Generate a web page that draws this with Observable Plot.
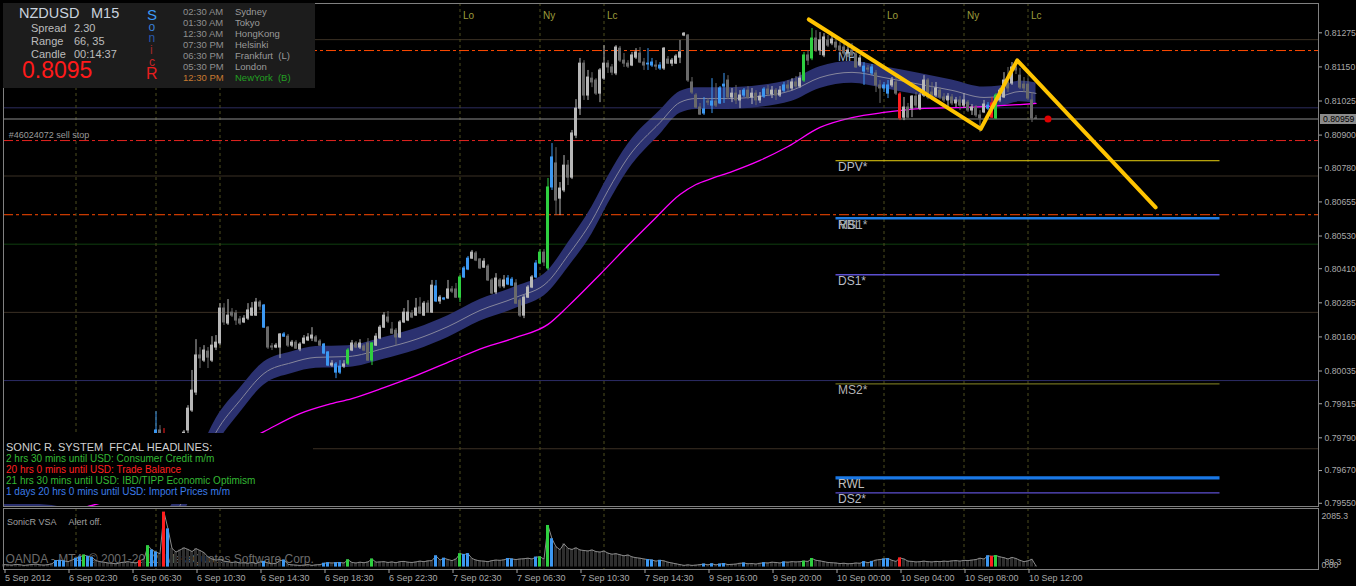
<!DOCTYPE html>
<html>
<head>
<meta charset="utf-8">
<script src="https://cdn.jsdelivr.net/npm/d3@7"></script>
<script src="https://cdn.jsdelivr.net/npm/@observablehq/plot@0.6"></script>
<style>
  html, body { margin:0; padding:0; background:#000; }
  #wrap { position:relative; width:1356px; height:586px; overflow:hidden; background:#000; font-family:"Liberation Sans", Arial, sans-serif; }
  #main, #vol { position:absolute; left:0; line-height:0; }
  #main { top:0; }
  #vol { top:506px; }
  .t { position:absolute; white-space:pre; line-height:1; }
  #info { position:absolute; left:3px; top:3px; width:312px; height:85px; background:#1c1c1c; }
  #news { position:absolute; left:4px; top:433px; width:309px; height:71px; background:#000; }
</style>
</head>
<body>
<div id="wrap"><div id="main"></div><div id="vol"></div><div id="info"></div><div id="news"></div></div>
<script>
// ---------------- DATA ----------------
const symbolName = "NZDUSD", timeframe = "M15";
const infoLabels = ["Spread", "Range", "Candle"];
const infoValues = ["2.30", "66, 35", "00:14:37"];
const bigPrice = "0.8095";
const sonicLetters = ["S", "o", "n", "i", "c", "R"];
const sessionTimes = ["02:30 AM","01:30 AM","12:30 AM","07:30 PM","06:30 PM","05:30 PM","12:30 PM"];
const sessionCities = ["Sydney","Tokyo","HongKong","Helsinki","Frankfurt  (L)","London","NewYork  (B)"];
const headlineTitle = "SONIC R. SYSTEM  FFCAL HEADLINES:";
const headlines = [
  "2 hrs 30 mins until USD: Consumer Credit m/m",
  "20 hrs 0 mins until USD: Trade Balance",
  "21 hrs 30 mins until USD: IBD/TIPP Economic Optimism",
  "1 days 20 hrs 0 mins until USD: Import Prices m/m"
];
const orderText = "#46024072 sell stop";
const vsaTitle = "SonicR VSA";
const vsaAlert = "Alert off.";
const watermark = "OANDA - MT4, \u00a9 2001-2012, MetaQuotes Software Corp.";

// price axis ticks
const yTickValues = [0.81275,0.8115,0.81025,0.809,0.8078,0.80655,0.8053,0.8041,0.80285,0.8016,0.80035,0.79915,0.7979,0.7967,0.7955];
// date ticks (bar index -> label)
const dateTickBars = [0,16,32,48,64,80,96,112,128,144,160,176,192,208,224,240,256];
const dateTickLabels = ["5 Sep 2012","6 Sep 02:30","6 Sep 06:30","6 Sep 10:30","6 Sep 14:30","6 Sep 18:30","6 Sep 22:30","7 Sep 02:30","7 Sep 06:30","7 Sep 10:30","7 Sep 14:30","9 Sep 16:00","9 Sep 20:00","10 Sep 00:00","10 Sep 04:00","10 Sep 08:00","10 Sep 12:00"];
// session markers
const sessionBars = [18,38,54,114,134,150,220,240,256];
const sessionNames = ["Lo","Ny","Lc","Lo","Ny","Lc","Lo","Ny","Lc"];

// OHLC in price points (1e-5)
const O = [
79505,79516,79509,79523,79512,79498,79505,79494,79487,79501,
79490,79483,79476,79465,79443,79457,79450,79435,79446,79413,
79439,79479,79443,79465,79454,79461,79450,79457,79446,79454,
79443,79450,79439,79446,79435,79413,79565,79633,79707,79817,
79762,79600,79660,79670,79725,79762,79817,79890,79956,80092,
80073,80106,80073,80121,80136,80264,80209,80249,80246,80224,
80213,80227,80238,80238,80286,80275,80194,80125,80121,80121,
80169,80161,80128,80139,80114,80136,80147,80154,80158,80143,
80132,80103,80055,80059,80029,80051,80062,80110,80136,80121,
80125,80136,80073,80128,80154,80194,80231,80187,80183,80158,
80213,80220,80246,80238,80268,80238,80282,80249,80345,80290,
80301,80301,80334,80334,80304,80378,80407,80447,80466,80444,
80414,80418,80367,80323,80367,80345,80352,80370,80356,80293,
80238,80304,80341,80378,80429,80469,80411,80708,80796,80667,
80697,80788,80744,80898,80997,81162,81045,81107,81100,81052,
81107,81162,81148,81126,81217,81173,81162,81155,81184,81199,
81166,81159,81166,81155,81155,81144,81177,81162,81162,81184,
81265,81265,81093,81045,81001,80979,81023,81008,81023,81016,
81078,81100,81038,81052,81027,81045,81063,81038,81052,81027,
81041,81067,81049,81063,81045,81063,81082,81071,81093,81078,
81100,81192,81181,81254,81210,81192,81247,81236,81239,81225,
81221,81199,81210,81195,81155,81151,81144,81126,81126,81082,
81071,81052,81082,81093,81049,80964,81001,80997,81041,80997,
81045,81100,81056,81045,81063,81038,81027,81038,81016,81027,
81008,81019,80990,81001,80972,80983,80997,81016,80961,81027,
81038,81093,81089,81148,81118,81085,81085,81027,80961];
const H = [
79531,79534,79527,79530,79531,79520,79527,79516,79509,79523,
79512,79505,79498,79494,79472,79487,79472,79465,79487,79457,
79494,79505,79479,79487,79476,79483,79472,79479,79468,79476,
79465,79472,79461,79468,79487,79468,79670,79780,79886,79835,
79824,79680,79707,79743,79788,79817,79908,80037,80150,80121,
80128,80121,80161,80165,80282,80282,80297,80264,80257,80235,
80238,80282,80286,80301,80293,80279,80198,80136,80136,80172,
80176,80169,80147,80147,80139,80165,80172,80194,80165,80150,
80136,80106,80073,80066,80073,80073,80117,80147,80143,80150,
80132,80154,80139,80172,80202,80249,80253,80213,80191,80220,
80264,80293,80257,80301,80304,80290,80293,80367,80367,80312,
80304,80367,80345,80356,80385,80418,80455,80477,80473,80447,
80447,80425,80374,80392,80374,80385,80385,80378,80370,80301,
80312,80348,80385,80440,80480,80480,80741,80869,80854,80726,
80825,80807,80917,81030,81181,81173,81137,81129,81107,81144,
81228,81173,81159,81228,81225,81199,81173,81203,81217,81221,
81181,81217,81181,81173,81166,81221,81188,81181,81195,81247,
81276,81269,81111,81052,81016,81038,81034,81107,81089,81078,
81126,81118,81071,81082,81063,81071,81078,81071,81063,81056,
81074,81082,81078,81071,81078,81093,81100,81107,81115,81129,
81203,81210,81291,81283,81276,81272,81265,81272,81254,81239,
81232,81225,81236,81203,81192,81166,81155,81159,81137,81100,
81093,81100,81111,81118,81056,81038,81016,81045,81056,81052,
81118,81107,81093,81093,81074,81052,81052,81049,81038,81041,
81052,81027,81012,81008,80990,81027,81019,81038,81052,81071,
81129,81148,81166,81166,81144,81111,81107,81056,80972];
const L = [
79487,79494,79490,79501,79487,79480,79483,79472,79465,79479,
79468,79461,79450,79428,79413,79435,79421,79413,79395,79384,
79413,79428,79413,79435,79432,79439,79428,79435,79424,79432,
79421,79428,79417,79424,79377,79395,79560,79560,79670,79736,
79580,79575,79600,79615,79688,79725,79798,79883,79945,80044,
80066,80044,80066,80110,80128,80202,80202,80231,80202,80202,
80209,80220,80235,80235,80257,80191,80114,80110,80117,80081,
80158,80121,80121,80114,80106,80132,80143,80143,80139,80125,
80095,80051,80048,80007,80022,80044,80055,80106,80117,80114,
80106,80070,80055,80125,80150,80191,80209,80169,80128,80154,
80209,80216,80227,80235,80242,80235,80246,80246,80286,80279,
80293,80297,80319,80301,80286,80374,80403,80444,80436,80407,
80411,80363,80315,80315,80337,80337,80348,80345,80279,80231,
80227,80301,80337,80374,80425,80418,80403,80697,80605,80605,
80689,80715,80737,80887,80972,81027,81027,81074,81045,81019,
81100,81126,81118,81118,81166,81148,81144,81151,81177,81162,
81137,81137,81148,81137,81137,81137,81159,81151,81159,81162,
81261,81093,81049,80997,80972,80972,81008,80979,81001,81012,
81016,81030,81019,81012,80997,81038,81030,81012,81008,81016,
81034,81041,81034,81027,81038,81056,81056,81063,81071,81071,
81093,81155,81173,81203,81192,81184,81221,81228,81210,81199,
81192,81184,81184,81144,81148,81082,81129,81118,81056,81016,
81056,81034,81074,81045,80953,80953,80961,80964,80997,80990,
81038,81030,81027,81038,81030,81019,81001,81008,81001,80990,
80997,80983,80972,80964,80909,80979,80990,80961,80957,81019,
81034,81056,81082,81122,81067,81056,81027,80946,80957];
const C = [
79516,79509,79523,79512,79498,79505,79494,79487,79501,79490,
79483,79476,79465,79443,79457,79450,79435,79446,79413,79439,
79479,79443,79465,79454,79461,79450,79457,79446,79454,79443,
79450,79439,79446,79435,79413,79450,79633,79707,79817,79762,
79600,79660,79670,79725,79762,79809,79897,79963,80092,80081,
80110,80084,80128,80139,80264,80213,80238,80238,80220,80209,
80227,80257,80264,80286,80271,80194,80121,80121,80128,80169,
80161,80128,80139,80117,80132,80154,80158,80165,80143,80128,
80099,80055,80062,80029,80051,80059,80110,80136,80121,80136,
80110,80073,80136,80161,80194,80238,80216,80172,80158,80213,
80249,80249,80231,80264,80246,80282,80249,80348,80290,80304,
80297,80334,80326,80304,80378,80411,80447,80469,80440,80411,
80436,80367,80319,80374,80345,80367,80374,80348,80282,80238,
80304,80341,80378,80429,80469,80433,80708,80818,80660,80704,
80788,80744,80906,80997,81162,81045,81111,81093,81052,81137,
81162,81148,81129,81221,81173,81162,81151,81192,81203,81166,
81155,81162,81155,81151,81144,81217,81162,81173,81188,81203,
81272,81100,81056,81001,80975,80994,81019,81023,81008,81071,
81085,81038,81052,81027,81045,81063,81038,81052,81027,81041,
81067,81049,81063,81045,81063,81082,81071,81093,81078,81107,
81192,81173,81254,81210,81247,81258,81228,81250,81221,81210,
81199,81210,81192,81148,81181,81133,81140,81148,81082,81071,
81082,81082,81100,81052,80961,81001,80964,81041,81008,81045,
81100,81038,81045,81071,81038,81027,81041,81016,81027,81008,
81027,80990,81001,80972,80961,81012,81008,80964,81045,81063,
81100,81071,81148,81137,81074,81071,81034,80961,80959];
// VSA volume
const VOL = [
90,80,70,100,85,60,75,95,110,80,
70,90,120,240,250,230,200,260,330,380,
450,400,360,240,200,180,150,140,120,160,
180,200,170,150,240,300,800,640,560,500,
2060,1430,700,560,640,720,660,580,690,620,
540,380,300,260,280,220,200,170,190,150,
160,140,170,130,190,210,150,120,140,240,
260,100,80,70,60,70,90,60,80,90,
140,160,150,160,170,150,270,170,150,180,
160,190,300,180,190,200,170,190,160,200,
210,180,170,190,220,200,230,240,420,260,
330,280,240,300,500,470,500,320,260,230,
220,200,240,260,250,270,320,300,280,300,
310,330,300,370,380,300,1560,1060,760,650,
870,700,660,720,640,620,600,640,580,560,
600,520,480,500,460,420,450,380,350,330,
300,280,260,220,250,230,180,150,120,90,
60,80,60,70,90,110,80,120,80,110,
130,90,100,110,140,150,120,130,110,140,
160,150,180,170,150,190,180,200,190,200,
220,210,320,250,230,200,170,160,150,130,
140,120,130,150,140,200,160,210,260,280,
300,320,250,210,340,300,220,210,190,200,
220,200,190,210,200,220,210,230,240,220,
250,240,260,280,330,300,420,400,430,380,
350,300,360,320,250,200,230,290,40];
const volTop = 2085.3;
const blueBars = [13,14,15,18,19,21,22,37,38,41,65,70,80,81,83,84,108,110,115,116,126,127,133,137,161,162,164,175,177,179,180,185,190,195,215,217,220,221,246];
const greenBars = [20,36,86,92,114,134,136,200,202,248];
const redBars = [34,40,224,247];

// Sonic dragon band (EMA of high / close / low), points
const dragonBars = [0,12,20,30,38,44,49,53,59,65,72,78,86,95,103,111,119,128,136,141,147,151,156,164,169,173,181,189,197,204,212,220,229,237,245,249,254,258];
const dragonHi = [79549,79542,79498,79472,79490,79590,79738,79860,79972,80068,80106,80125,80128,80158,80191,80238,80297,80345,80403,80504,80637,80747,80866,80990,81060,81074,81074,81082,81104,81151,81170,81151,81126,81102,81076,81080,81098,81091];
const dragonMid = [79509,79502,79458,79432,79450,79542,79688,79810,79927,80026,80066,80085,80088,80118,80151,80198,80257,80305,80363,80459,80587,80697,80818,80946,81020,81034,81034,81042,81064,81111,81130,81111,81086,81064,81038,81042,81060,81053];
const dragonLo = [79469,79462,79418,79392,79410,79494,79638,79760,79882,79984,80026,80045,80048,80078,80111,80158,80217,80265,80323,80414,80537,80647,80770,80902,80980,80994,80994,81002,81024,81071,81090,81071,81046,81026,81000,81004,81022,81015];
// slow MA (magenta)
const maBars = [0,22,44,65,74,81,87,95,103,112,120,128,136,141,149,156,162,169,173,177,182,189,196,204,212,220,229,238,246,254,258];
const maVals = [79487,79542,79652,79813,79879,79912,79934,79974,80018,80073,80121,80158,80206,80272,80389,80495,80583,80682,80719,80741,80766,80807,80858,80928,80964,80983,80997,81001,81005,81012,81016];

// horizontal levels
const roundLevels = [0.8125,0.8100,0.8075,0.8050,0.8025,0.8000,0.7975];
const dashLevels = [0.81210,0.80880,0.80608];
const bid = 0.80959;
const levelNames = ["DPV*","MS1*","RBL","DS1*","MS2*","RWL","DS2*","MP"];
const levelValues = [0.80806,0.80595,0.80595,0.80388,0.79988,0.79643,0.79588,0.81208];
const levelFromBar = 208, levelToBar = 304;
// hand-drawn zigzag
const trendBars = [201.2,244.2,253.3,287.9];
const trendVals = [0.81324,0.80923,0.81174,0.80635];
const orderMarkerBar = 261;

// ---------------- STYLES ----------------
const FONT = '"Liberation Sans", Arial, sans-serif';
const roundColors = ["#3b3024","#2c2c5e","#3b3024","#0f3f0f","#3b3024","#2c2c64","#3b3024"];
const dashColors = ["#ff4a00","#e42420","#ff4a00"];
const levelStroke = ["#e8d010","#1e7ee6",null,"#5c4fd0","#6e6e1e","#1a78e6","#5c4fd0",null];
const levelWidth = [1,2.6,0,1.3,1.3,3.2,1.3,0];
const levelText = ["#b8bcc4","#aab2ba","#aab2ba","#b8bcc4","#b4b4b4","#c0c0c0","#b8bcc4","#9cb2cc"];
const kindColor = {blue:"#3c98f2", green:"#2ed040", red:"#ff1e1e", up:"#b8b8b8", down:"#6a6a6a"};
const X = {domain:[-0.125, 328.625], axis:null};

const blueSet = new Set(blueBars), greenSet = new Set(greenBars), redSet = new Set(redBars);
const kindOf = i => blueSet.has(i) ? "blue" : greenSet.has(i) ? "green" : redSet.has(i) ? "red" : (C[i] >= O[i] ? "up" : "down");
const candles = O.map((o,i)=>({i, o:o/1e5, h:H[i]/1e5, l:L[i]/1e5, c:C[i]/1e5, kind:kindOf(i)}));
const dragon = dragonBars.map((b,k)=>({i:b, hi:dragonHi[k]/1e5, mid:dragonMid[k]/1e5, lo:dragonLo[k]/1e5}));
const ma = maBars.map((b,k)=>({i:b, v:maVals[k]/1e5}));
const trend = trendBars.map((b,k)=>({i:b, v:trendVals[k]}));
const rounds = roundLevels.map((v,k)=>({v, c:roundColors[k]}));
const dashes = dashLevels.map((v,k)=>({v, c:dashColors[k]}));
const sessions = sessionBars.map((b,k)=>({i:b, name:sessionNames[k]}));
const levels = levelNames.map((n,k)=>({name:n, v:levelValues[k], c:levelStroke[k], w:levelWidth[k], t:levelText[k]}));
const vols = VOL.map((v,i)=>({i, v, kind:kindOf(i)}));

const mainPlot = Plot.plot({
  width:1356, height:507, marginLeft:3, marginRight:38, marginTop:3, marginBottom:1,
  x: X, y:{domain:[0.795382, 0.813825], axis:null, label:null}, color:{type:"identity"},
  style:{background:"transparent", color:"#a9a9a9", fontFamily:FONT, fontSize:"9px"},
  marks:[
    Plot.ruleY(rounds, {y:"v", stroke:"c", strokeWidth:1}),
    Plot.ruleY(dashes, {y:"v", stroke:"c", strokeWidth:1, strokeDasharray:"10,3,3,3"}),
    Plot.ruleX(sessions, {x:"i", stroke:"#4c4c1e", strokeDasharray:"3,3"}),
    Plot.text(sessions, {x:"i", text:"name", frameAnchor:"top", dy:8, dx:3, textAnchor:"start", fill:"#9c9c3c", fontSize:10}),
    Plot.ruleY(levels.filter(d=>d.c), {y:"v", x1:levelFromBar, x2:levelToBar, stroke:"c", strokeWidth:"w"}),
    Plot.text(levels, {x:levelFromBar, y:"v", text:"name", dx:2, dy:6.5, textAnchor:"start", fill:"t", fontSize:12}),
    Plot.areaY(dragon, {x:"i", y1:"lo", y2:"hi", fill:"#2b3170", curve:"monotone-x", clip:true}),
    Plot.line(dragon, {x:"i", y:"mid", stroke:"#86869c", strokeWidth:1, curve:"monotone-x", clip:true}),
    Plot.line(ma, {x:"i", y:"v", stroke:"#ff00ff", strokeWidth:1.3, curve:"monotone-x", clip:true}),
    Plot.ruleY([bid], {stroke:"#8c8c8c"}),
    Plot.ruleX(candles, {x:"i", y1:"l", y2:"h", stroke:d=>kindColor[d.kind], strokeWidth:1, clip:true}),
    Plot.rect(candles, {x1:d=>d.i-0.375, x2:d=>d.i+0.375, y1:"o", y2:"c", fill:d=>kindColor[d.kind], insetTop:-0.5, insetBottom:-0.5, clip:true}),
    Plot.line(trend, {x:"i", y:"v", stroke:"#ffc400", strokeWidth:4, strokeLinejoin:"round", strokeLinecap:"round"}),
    Plot.dot([{i:orderMarkerBar, v:bid}], {x:"i", y:"v", r:3.5, fill:"#e00000"}),
    Plot.text([orderText], {frameAnchor:"left", y:dashLevels[1], text:d=>d, dx:5.3, dy:-5.5, textAnchor:"start", fill:"#9a9a9a", fontSize:9}),
    Plot.axisY(yTickValues, {anchor:"right", label:null, tickSize:3, tickPadding:3, tickFormat:d3.format(".5f"), fontSize:8.7}),
    Plot.frame({stroke:"#808080"})
  ]
});
document.getElementById("main").appendChild(mainPlot);

const volPlot = Plot.plot({
  width:1356, height:80, marginLeft:3, marginRight:38, marginTop:2, marginBottom:17,
  x: {...X, label:null}, y:{domain:[-94, 2198], axis:null, label:null}, color:{type:"identity"},
  style:{background:"transparent", color:"#a9a9a9", fontFamily:FONT, fontSize:"9px"},
  marks:[
    Plot.ruleX(sessions, {x:"i", stroke:"#4c4c1e", strokeDasharray:"3,3"}),
    Plot.text([watermark], {frameAnchor:"bottom-left", text:d=>d, dx:2, dy:-7, textAnchor:"start", fill:"#6c6c6c", fontSize:12}),
    Plot.rect(vols, {x1:d=>d.i-0.375, x2:d=>d.i+0.375, y1:0, y2:"v", fill:"#2e2e2e"}),
    Plot.line(vols, {x:"i", y:"v", stroke:"#8a8a8a", strokeWidth:1}),
    Plot.rect(vols.filter(d=>d.kind==="blue"||d.kind==="green"||d.kind==="red"), {x1:d=>d.i-0.375, x2:d=>d.i+0.375, y1:0, y2:"v", fill:d=>kindColor[d.kind]}),
    Plot.frame({stroke:"#808080"}),
    Plot.axisX(dateTickBars, {anchor:"bottom", label:null, tickSize:4, tickPadding:1, textAnchor:"start", dx:1, tickFormat:d=>dateTickLabels[dateTickBars.indexOf(d)], fontSize:9}),
    Plot.text([{v:volTop, t:"2085.3"}], {y:"v", text:"t", frameAnchor:"right", dx:3, dy:4.5, textAnchor:"start", fill:"#a9a9a9", fontSize:8.7}),
    Plot.text([{v:0, t:"0.00"}], {y:"v", text:"t", frameAnchor:"right", dx:3, dy:-1.5, textAnchor:"start", fill:"#a9a9a9", fontSize:8.7}),
    Plot.text([{v:0, t:"89.3"}], {y:"v", text:"t", frameAnchor:"right", dx:6, dy:-4.5, textAnchor:"start", fill:"#a9a9a9", fontSize:8.7}),
    Plot.text([vsaTitle], {frameAnchor:"top-left", text:d=>d, dx:3.5, dy:10, textAnchor:"start", fill:"#a0a0a0", fontSize:9}),
    Plot.text([vsaAlert], {frameAnchor:"top-left", text:d=>d, dx:65, dy:10, textAnchor:"start", fill:"#a0a0a0", fontSize:9})
  ]
});
document.getElementById("vol").appendChild(volPlot);

// ---------------- OVERLAYS ----------------
const wrap = document.getElementById("wrap");
function addText(txt, left, cy, size, color, extra) {
  const d = document.createElement("div");
  d.className = "t";
  d.textContent = txt;
  d.style.left = left + "px";
  d.style.top = (cy - 0.5 * size) + "px";
  d.style.fontSize = size + "px";
  d.style.color = color;
  if (extra) Object.assign(d.style, extra);
  wrap.appendChild(d);
  return d;
}
// bid label on price axis
const yb = mainPlot.scale("y").apply(bid);
addText(bid.toFixed(5), 1320, yb, 8.7, "#000", {background:"#8c8c8c", width:"33px", height:"10px", lineHeight:"10px", paddingLeft:"3px", top:(yb-5)+"px"});

// info panel
addText(symbolName, 19, 13.5, 14.5, "#c9d2de");
addText(timeframe, 91, 13.5, 14.5, "#c9d2de");
const infoY = [28, 41.3, 54];
infoLabels.forEach((t,k)=>{ addText(t, 31, infoY[k], 11, "#bdbdbd"); addText(infoValues[k], 74, infoY[k], 11, "#bdbdbd"); });
addText(bigPrice, 22, 70, 23, "#ff1a1a");
const sonicStyle = [
  {x:147, y:14.7, s:15, c:"#3d9af5"}, {x:148.5, y:26.5, s:12, c:"#3a7fd8"}, {x:148.5, y:37.5, s:12, c:"#2a5ab0"},
  {x:150, y:50, s:12, c:"#a02a2a"}, {x:149, y:61.5, s:12, c:"#c42626"}, {x:146, y:74.2, s:16, c:"#e61e1e"}
];
sonicLetters.forEach((t,k)=>addText(t, sonicStyle[k].x, sonicStyle[k].y, sonicStyle[k].s, sonicStyle[k].c));
sessionTimes.forEach((t,k)=>{
  const cy = 12 + 11 * k;
  addText(t, 183, cy, 9.5, k === 6 ? "#c87a30" : "#8f8f8f");
  addText(sessionCities[k], 235, cy, 9.5, k === 6 ? "#22a022" : "#9a9a9a");
});
// headlines
addText(headlineTitle, 6, 447.3, 11, "#d0d0d0");
const headY = [458.7, 469.7, 480.5, 491.5];
const headColors = ["#34b834", "#ff2020", "#34b834", "#3c7ce8"];
headlines.forEach((t,k)=>addText(t, 6, headY[k], 10, headColors[k]));
</script>
</body>
</html>
